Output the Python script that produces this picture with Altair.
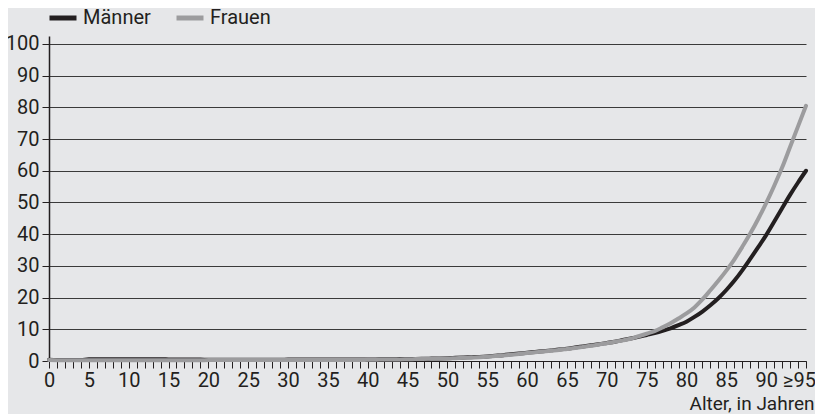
import altair as alt
import pandas as pd

ages = list(range(96))

men = [
    0.4, 0.3, 0.3, 0.3, 0.3, 0.55, 0.55, 0.55, 0.55, 0.55,
    0.55, 0.55, 0.55, 0.55, 0.55, 0.5, 0.45, 0.45, 0.45, 0.45,
    0.4, 0.4, 0.4, 0.4, 0.4, 0.4, 0.4, 0.4, 0.4, 0.4,
    0.45, 0.45, 0.45, 0.45, 0.45, 0.45, 0.45, 0.45, 0.45, 0.45,
    0.5, 0.5, 0.55, 0.55, 0.6, 0.62, 0.66, 0.7, 0.76, 0.82,
    0.9, 1.0, 1.1, 1.2, 1.3, 1.45, 1.65, 1.85, 2.1, 2.35,
    2.6, 2.85, 3.1, 3.35, 3.6, 3.9, 4.25, 4.6, 4.95, 5.3,
    5.7, 6.1, 6.6, 7.1, 7.6, 8.2, 8.8, 9.5, 10.3, 11.3,
    12.4, 13.9, 15.6, 17.6, 19.8, 22.4, 25.3, 28.6, 32.2, 35.9,
    39.7, 43.9, 48.2, 52.4, 56.3, 60.0,
]

women = [
    0.3, 0.25, 0.25, 0.25, 0.25, 0.25, 0.25, 0.25, 0.25, 0.25,
    0.25, 0.25, 0.25, 0.25, 0.25, 0.25, 0.25, 0.25, 0.25, 0.25,
    0.3, 0.3, 0.3, 0.3, 0.3, 0.3, 0.3, 0.3, 0.3, 0.3,
    0.3, 0.3, 0.3, 0.3, 0.3, 0.3, 0.3, 0.3, 0.3, 0.3,
    0.4, 0.42, 0.45, 0.48, 0.5, 0.55, 0.6, 0.65, 0.7, 0.75,
    0.8, 0.9, 1.0, 1.1, 1.2, 1.35, 1.55, 1.75, 2.0, 2.25,
    2.5, 2.75, 3.0, 3.25, 3.5, 3.8, 4.1, 4.45, 4.8, 5.2,
    5.6, 6.05, 6.5, 7.0, 7.8, 8.6, 9.4, 10.6, 11.9, 13.4,
    15.0, 16.9, 19.4, 22.3, 25.3, 28.5, 32.0, 36.0, 40.2, 44.8,
    49.8, 55.2, 61.0, 67.5, 74.0, 80.5,
]

series_names = ["Männer", "Frauen"]
series_colors = ["#231f20", "#9c9c9e"]
y_ticks = list(range(0, 101, 10))

assert len(men) == 96 and len(women) == 96

df = pd.DataFrame(
    {
        "Alter": ages * 2,
        "Wert": men + women,
        "Geschlecht": [series_names[0]] * 96 + [series_names[1]] * 96,
    }
)

FONT = "Roboto"

x_enc = alt.X(
    "Alter:Q",
    scale=alt.Scale(domain=[0, 95], nice=False, zero=False),
    axis=alt.Axis(
        values=ages,
        labelExpr="datum.value % 5 == 0 ? (datum.value == 95 ? '≥95' : datum.value) : ''",
        labelOffset=alt.condition("datum.value == 95", alt.value(-7), alt.value(0)),
        title="Alter, in Jahren",
        titleAnchor="end",
        titleAlign="right",
        titleBaseline="alphabetic",
        titleX=765,
        titleY=48,
        titleFont=FONT,
        titleFontSize=19,
        titleFontWeight="normal",
        titleColor="#231f20",
        grid=False,
        tickSize=7,
        tickColor="#231f20",
        tickWidth=1,
        domainColor="#231f20",
        domainWidth=1,
        labelFont=FONT,
        labelFontSize=20,
        labelColor="#231f20",
        labelPadding=2,
        labelOverlap=False,
        labelFlush=False,
    ),
)

y_enc = alt.Y(
    "Wert:Q",
    scale=alt.Scale(domain=[0, 102.5], nice=False),
    axis=alt.Axis(
        values=y_ticks,
        title=None,
        grid=True,
        gridColor="#3a3a3a",
        gridWidth=1,
        tickSize=7,
        tickColor="#231f20",
        tickWidth=1,
        domainColor="#231f20",
        domainWidth=1.5,
        labelFont=FONT,
        labelFontSize=20,
        labelColor="#231f20",
        labelPadding=3,
    ),
)

color_enc = alt.Color(
    "Geschlecht:N",
    scale=alt.Scale(domain=series_names, range=series_colors),
    legend=alt.Legend(
        title=None,
        orient="none",
        legendX=-2,
        legendY=-34,
        direction="horizontal",
        symbolType="stroke",
        symbolStrokeWidth=5,
        symbolSize=729,
        labelFont=FONT,
        labelFontSize=20,
        labelColor="#231f20",
        labelOffset=4,
        columnPadding=15,
    ),
)

base = alt.Chart(df).mark_line(strokeWidth=4, interpolate="monotone", strokeCap="round")

men_line = base.transform_filter(alt.datum.Geschlecht == series_names[0]).encode(
    x=x_enc, y=y_enc, color=color_enc
)
women_line = base.transform_filter(alt.datum.Geschlecht == series_names[1]).encode(
    x=x_enc, y=y_enc, color=color_enc
)

chart = (
    alt.layer(men_line, women_line)
    .properties(
        width=757,
        height=325,
        background="#e6e7e9",
        autosize=alt.AutoSizeParams(type="none"),
        padding={"left": 41, "top": 28, "right": 9, "bottom": 53},
    )
    .configure_view(stroke=None)
)

chart.save("out.html", embed_options={"renderer": "svg", "actions": False})
